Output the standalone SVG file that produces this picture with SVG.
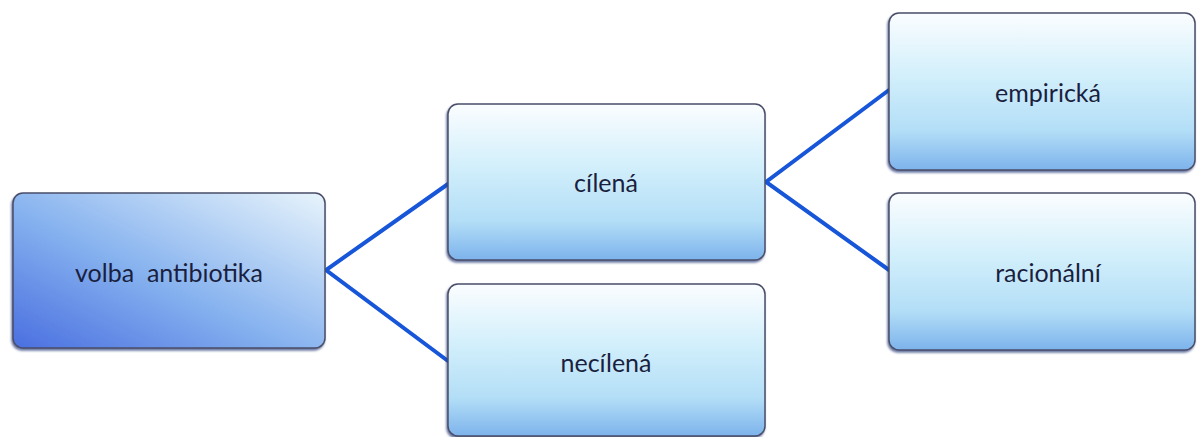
<svg xmlns="http://www.w3.org/2000/svg" width="1197" height="437" viewBox="0 0 1197 437">
<defs>
<linearGradient id="gRoot" x1="0" y1="1" x2="1" y2="0">
<stop offset="0" stop-color="#4a6fe0"/>
<stop offset="0.45" stop-color="#86b2ef"/>
<stop offset="1" stop-color="#e8f4fb"/>
</linearGradient>
<linearGradient id="gChild" x1="0" y1="0" x2="0" y2="1">
<stop offset="0" stop-color="#fbfdff"/>
<stop offset="0.4" stop-color="#d2effb"/>
<stop offset="0.75" stop-color="#b3def7"/>
<stop offset="1" stop-color="#7db3ec"/>
</linearGradient>
<filter id="sh" x="-5%" y="-5%" width="110%" height="115%">
<feDropShadow dx="-1" dy="2" stdDeviation="1.2" flood-color="#2a3a7a" flood-opacity="0.7"/>
</filter>
</defs>
<style>
.box{stroke:#4a4e68;stroke-width:1.5;filter:url(#sh)}
.lbl{font-family:Lato,"Open Sans","Liberation Sans",sans-serif;font-size:25px;fill:#1a1f40;text-anchor:middle;dominant-baseline:central;white-space:pre}
.con{stroke:#1756d8;stroke-width:4;fill:none;stroke-linecap:round}
</style>
<rect width="1197" height="437" fill="#ffffff"/>
<g id="connectors">
<polyline class="con" points="448,184 326,270 448,361"/>
<polyline class="con" points="889,90 766,182 889,270"/>
</g>
<g id="node-root">
<rect class="box" x="13" y="193" width="312" height="155" rx="10" fill="url(#gRoot)"/>
<text class="lbl" x="169" y="272" xml:space="preserve">volba  antibiotika</text>
</g>
<g id="node-cilena">
<rect class="box" x="448" y="104" width="317" height="156" rx="10" fill="url(#gChild)"/>
<text class="lbl" x="606" y="182">cílená</text>
</g>
<g id="node-necilena">
<rect class="box" x="448" y="284" width="317" height="152" rx="10" fill="url(#gChild)"/>
<text class="lbl" x="606" y="362">necílená</text>
</g>
<g id="node-empiricka">
<rect class="box" x="889" y="13" width="306" height="157" rx="10" fill="url(#gChild)"/>
<text class="lbl" x="1048" y="92">empirická</text>
</g>
<g id="node-racionalni">
<rect class="box" x="889" y="193" width="306" height="157" rx="10" fill="url(#gChild)"/>
<text class="lbl" x="1048" y="272">racionální</text>
</g>
</svg>
